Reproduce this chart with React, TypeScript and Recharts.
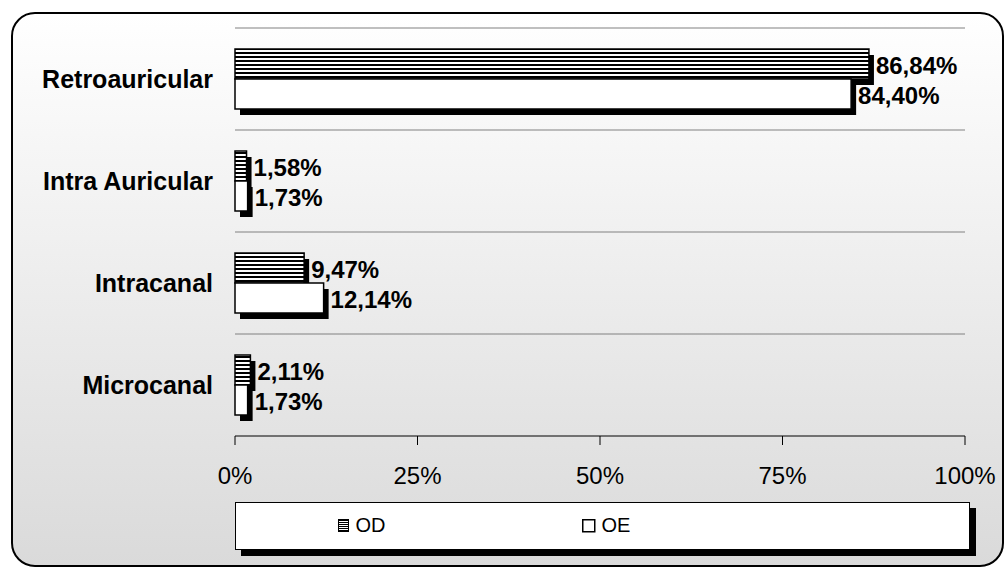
import React from 'react';
import { BarChart, Bar, XAxis, YAxis, CartesianGrid, LabelList } from 'recharts';

const categories = ['Retroauricular', 'Intra Auricular', 'Intracanal', 'Microcanal'];
const odValues = [86.84, 1.58, 9.47, 2.11];
const oeValues = [84.4, 1.73, 12.14, 1.73];
const xTicks = [0, 25, 50, 75, 100];

const data = categories.map((name, i) => ({ name, OD: odValues[i], OE: oeValues[i] }));

const FONT = '"Liberation Sans", Arial, sans-serif';

const fmt = (v: number) => v.toFixed(2).replace('.', ',') + '%';

// bar with a solid black drop shadow
const ShadowBar = (props: any) => {
  const { x, y, width, height, fill } = props;
  if (!width || width <= 0) return null;
  return (
    <g>
      <rect x={x + 5} y={y + 6} width={width} height={height} fill="#000" />
      <rect x={x} y={y} width={width} height={height} fill={fill} stroke="#000" strokeWidth={1.5} />
    </g>
  );
};

const ValueLabel = (props: any) => {
  const { x, y, width, height, value } = props;
  return (
    <text
      x={x + width + 7}
      y={y + height / 2 + 1}
      fill="#000"
      fontFamily={FONT}
      fontSize={24}
      fontWeight="bold"
      dominantBaseline="central"
    >
      {fmt(value)}
    </text>
  );
};

const CategoryTick = (props: any) => {
  const { x, y, payload } = props;
  return (
    <text
      x={x}
      y={y}
      textAnchor="end"
      dominantBaseline="central"
      fill="#000"
      fontFamily={FONT}
      fontSize={25}
      fontWeight="bold"
    >
      {payload.value}
    </text>
  );
};

const StripeIcon = () => (
  <svg width={12} height={13} style={{ verticalAlign: 'middle' }} shapeRendering="crispEdges">
    <rect x={0} y={0} width={11} height={13} fill="#000" />
    {[2, 4, 6, 8, 10].map((yy) => (
      <rect key={yy} x={1} y={yy} width={9} height={1} fill="#fff" />
    ))}
  </svg>
);

const BoxIcon = () => (
  <svg width={14} height={14} style={{ verticalAlign: 'middle' }}>
    <rect x={0.75} y={0.75} width={12} height={12} fill="#fff" stroke="#000" strokeWidth={1.5} />
  </svg>
);

export default function App() {
  return (
    <div style={{ position: 'absolute', left: 0, top: 0, width: 1006, height: 569, background: '#fff', fontFamily: FONT }}>
      <div
        style={{
          position: 'absolute',
          left: 11,
          top: 12,
          width: 993,
          height: 555,
          boxSizing: 'border-box',
          border: '2px solid #000',
          borderRadius: 24,
          background: 'linear-gradient(#ffffff, #dadada)',
        }}
      />
      <div style={{ position: 'absolute', left: 0, top: 0 }}>
        <BarChart
          width={1006}
          height={569}
          data={data}
          layout="vertical"
          margin={{ top: 28, right: 41, bottom: 73, left: 0 }}
          barCategoryGap={20}
          barGap={0}
        >
          <defs>
            <pattern id="stripes" width={4} height={4} patternUnits="userSpaceOnUse">
              <rect width={4} height={4} fill="#fff" />
              <rect width={4} height={2} fill="#000" />
            </pattern>
          </defs>
          <CartesianGrid
            vertical={false}
            stroke="#808080"
            strokeWidth={1}
            horizontalCoordinatesGenerator={({ offset }: any) =>
              [0, 1, 2, 3].map((i) => offset.top + (i * offset.height) / categories.length)
            }
          />
          <XAxis
            type="number"
            domain={[0, 100]}
            ticks={xTicks}
            tickFormatter={(v: number) => `${v}%`}
            height={60}
            axisLine={{ stroke: '#000' }}
            tickLine={{ stroke: '#000' }}
            tickSize={9}
            tickMargin={22}
            tick={{ fill: '#000', fontSize: 24, fontFamily: FONT }}
          />
          <YAxis
            type="category"
            dataKey="name"
            width={235}
            axisLine={false}
            tickLine={false}
            tickSize={0}
            tickMargin={22}
            tick={<CategoryTick />}
          />
          <Bar dataKey="OD" fill="url(#stripes)" barSize={30} shape={<ShadowBar />} isAnimationActive={false}>
            <LabelList dataKey="OD" content={<ValueLabel />} />
          </Bar>
          <Bar dataKey="OE" fill="#fff" barSize={30} shape={<ShadowBar />} isAnimationActive={false}>
            <LabelList dataKey="OE" content={<ValueLabel />} />
          </Bar>
        </BarChart>
      </div>
      <div
        style={{
          position: 'absolute',
          left: 235,
          top: 502,
          width: 735,
          height: 48,
          boxSizing: 'border-box',
          background: '#fff',
          border: '1.5px solid #000',
          boxShadow: '6px 6px 0 #000',
          fontSize: 20,
          color: '#000',
        }}
      >
        <div style={{ position: 'absolute', left: 102, top: 10, whiteSpace: 'nowrap' }}>
          <StripeIcon /> <span style={{ verticalAlign: 'middle' }}>OD</span>
        </div>
        <div style={{ position: 'absolute', left: 346, top: 10, whiteSpace: 'nowrap' }}>
          <BoxIcon /> <span style={{ verticalAlign: 'middle' }}>OE</span>
        </div>
      </div>
    </div>
  );
}
